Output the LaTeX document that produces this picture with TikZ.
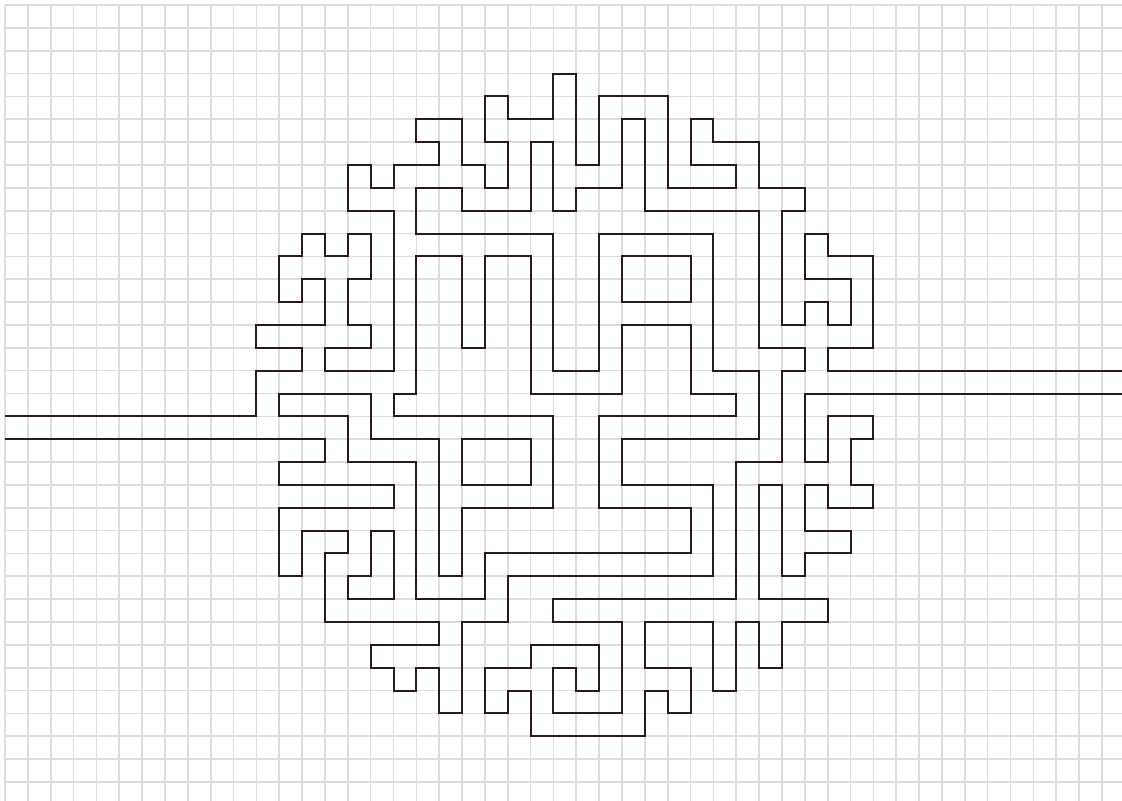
\documentclass[tikz,border=0pt]{standalone}
\definecolor{wallcol}{RGB}{42,26,26}
\definecolor{gridcol}{RGB}{221,221,221}
\begin{document}
\begin{tikzpicture}[wall/.style={line width=2.5pt, draw=wallcol}, gridline/.style={line width=2.1pt, draw=gridcol}]
        \useasboundingbox (-0.22,0.22) rectangle (48.88,-34.79);
        \clip (-0.22,0.22) rectangle (48.88,-34.79);
        %grid
        \draw[gridline] (0,0) grid (49,-35);
        %upper wall
        \draw[wall] (0,-18) -- (11,-18) -- (11,-16) -- (13,-16) -- (13,-15) -- (11,-15) -- (11,-14) -- (14,-14) -- (14,-12) -- (13,-12) -- (13,-13) -- (12,-13) -- (12,-11) -- (13,-11) -- (13,-10) -- (14,-10) -- (14,-11) -- (15,-11) -- (15,-10) -- (16,-10) -- (16,-12) -- (15,-12) -- (15,-14) -- (16,-14) -- (16,-15) -- (14,-15) -- (14,-16) -- (17,-16) -- (17,-9) -- (15,-9) -- (15,-7) -- (16,-7) -- (16,-8) -- (17,-8) -- (17,-7) -- (19,-7) -- (19,-6) -- (18,-6) -- (18,-5) -- (20,-5) -- (20,-7) -- (21,-7) -- (21,-8) -- (22,-8) -- (22,-6) -- (21,-6) -- (21,-4) -- (22,-4) -- (22,-5) -- (24,-5) -- (24,-3) -- (25,-3) -- (25,-7) -- (26,-7) -- (26,-4) -- (29,-4) -- (29,-8) -- (32,-8) -- (32,-7) -- (30,-7) -- (30,-5) -- (31,-5) -- (31,-6) -- (33,-6) -- (33,-8) -- (35,-8) -- (35,-9) -- (34,-9) -- (34,-14) -- (35,-14) -- (35,-13) -- (36,-13) -- (36,-14) -- (37,-14) -- (37,-12) -- (35,-12) -- (35,-10) -- (36,-10) -- (36,-11) -- (38,-11) -- (38,-15) -- (36,-15) -- (36,-16) -- (49,-16);
        %lower wall
        \draw[wall] (0,-19) -- (14,-19) -- (14,-20) -- (12,-20) -- (12,-21) -- (17,-21) -- (17,-22) -- (12,-22) -- (12,-25) -- (13,-25) -- (13,-23) -- (15,-23) -- (15,-24) -- (14,-24) -- (14,-27) -- (19,-27) -- (19,-28) -- (16,-28) -- (16,-29) -- (17,-29) -- (17,-30) -- (18,-30) -- (18,-29) -- (19,-29) -- (19,-31) -- (20,-31) -- (20,-27) -- (22,-27) -- (22,-25) -- (31,-25) -- (31,-21) -- (27,-21) -- (27,-19) -- (33,-19) -- (33,-16) -- (31,-16) -- (31,-10) -- (26,-10) -- (26,-16) -- (24,-16) -- (24,-10) -- (18,-10) -- (18,-8) -- (20,-8) -- (20,-9) -- (23,-9) -- (23,-6) -- (24,-6) -- (24,-9) -- (25,-9) -- (25,-8) -- (27,-8) -- (27,-5) -- (28,-5) -- (28,-9) -- (33,-9) -- (33,-15) -- (35,-15) -- (35,-16) -- (34,-16) -- (34,-20) -- (32,-20) -- (32,-26) -- (24,-26) -- (24,-27) -- (27,-27) -- (27,-31) -- (24,-31) -- (24,-29) -- (25,-29) -- (25,-30) -- (26,-30) -- (26,-28) -- (23,-28) -- (23,-29) -- (21,-29) -- (21,-31) -- (22,-31) -- (22,-30) -- (23,-30) -- (23,-32) -- (28,-32) -- (28,-30) -- (29,-30) -- (29,-31) -- (30,-31) -- (30,-29) -- (28,-29) -- (28,-27) -- (31,-27) -- (31,-30) -- (32,-30) -- (32,-27) -- (33,-27) -- (33,-29) -- (34,-29) -- (34,-27) -- (36,-27) -- (36,-26) -- (33,-26) -- (33,-21) -- (34,-21) -- (34,-25) -- (35,-25) -- (35,-24) -- (37,-24) -- (37,-23) -- (35,-23) -- (35,-21) -- (36,-21) -- (36,-22) -- (38,-22) -- (38,-21) -- (37,-21) -- (37,-19) -- (38,-19) -- (38,-18) -- (36,-18) -- (36,-20) -- (35,-20) -- (35,-17) -- (49,-17);
        %inner loop
        \draw[wall] (12,-17) -- (16,-17) -- (16,-19) -- (19,-19) -- (19,-25) -- (20,-25) -- (20,-22) -- (24,-22) -- (24,-18) -- (17,-18) -- (17,-17) -- (18,-17) -- (18,-11) -- (20,-11) -- (20,-15) -- (21,-15) -- (21,-11) -- (23,-11) -- (23,-17) -- (27,-17) -- (27,-14) -- (30,-14) -- (30,-17) -- (32,-17) -- (32,-18) -- (26,-18) -- (26,-22) -- (30,-22) -- (30,-24) -- (21,-24) -- (21,-26) -- (18,-26) -- (18,-20) -- (15,-20) -- (15,-18) -- (12,-18) -- cycle;
        %islands
        \draw[wall] (20,-19) rectangle (23,-21);
        \draw[wall] (27,-11) rectangle (30,-13);
        \draw[wall] (15,-25) -- (16,-25) -- (16,-23) -- (17,-23) -- (17,-26) -- (15,-26) -- cycle;
    \end{tikzpicture}
\end{document}
